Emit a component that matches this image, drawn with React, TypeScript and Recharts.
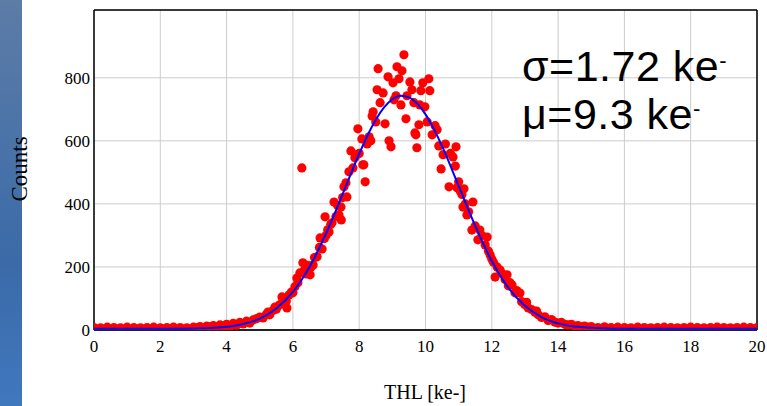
import React from "react";
import {
  ComposedChart,
  Scatter,
  Line,
  XAxis,
  YAxis,
  CartesianGrid,
  ReferenceLine,
} from "recharts";

// x ticks in ke-, y ticks in counts
const X_TICKS = [0, 2, 4, 6, 8, 10, 12, 14, 16, 18, 20];
const Y_TICKS = [0, 200, 400, 600, 800];
const Y_MAX = 1015;

// measured points [THL, counts]
const TAIL_LEFT: [number, number][] = [
  [0, 8], [0.2, 7], [0.4, 9], [0.6, 8], [0.8, 7], [1.0, 9], [1.2, 8], [1.4, 7],
  [1.6, 8], [1.8, 9], [2.0, 7], [2.2, 8], [2.4, 9], [2.6, 8], [2.8, 7],
];

const RISE: [number, number][] = [
  [3.0, 9], [3.1, 7], [3.2, 11], [3.3, 8], [3.4, 12], [3.5, 10], [3.6, 14], [3.7, 9],
  [3.8, 16], [3.9, 12], [4.0, 18], [4.1, 10], [4.2, 21], [4.3, 15], [4.4, 24], [4.5, 19],
  [4.6, 28], [4.7, 22], [4.8, 32], [4.9, 36], [5.0, 41], [5.1, 38], [5.2, 50], [5.25, 57],
  [5.3, 48], [5.4, 62], [5.46, 73], [5.5, 66], [5.6, 80], [5.67, 105], [5.7, 88], [5.8, 92],
  [5.82, 70], [5.88, 111], [5.95, 120], [6.0, 118], [6.06, 137], [6.12, 165], [6.15, 150],
  [6.21, 181], [6.27, 514], [6.3, 213], [6.35, 190], [6.4, 178], [6.45, 205], [6.52, 175],
  [6.55, 200], [6.61, 206], [6.65, 230], [6.73, 232], [6.8, 262], [6.82, 292], [6.88, 257],
  [6.95, 290], [6.97, 359], [7.0, 300], [7.05, 318], [7.09, 311], [7.14, 335], [7.18, 340],
  [7.24, 406], [7.3, 360], [7.35, 395], [7.39, 365], [7.45, 390], [7.46, 349], [7.5, 420],
  [7.54, 454], [7.6, 467], [7.63, 422], [7.69, 502], [7.75, 568], [7.81, 514], [7.87, 546],
  [7.93, 556], [7.96, 638], [8.0, 560], [8.08, 606], [8.11, 524], [8.14, 524], [8.18, 470],
  [8.24, 590], [8.3, 613], [8.35, 600], [8.39, 679], [8.42, 692], [8.5, 660],
];

const PEAK: [number, number][] = [
  [8.54, 762], [8.57, 829], [8.63, 721], [8.72, 752], [8.78, 654], [8.87, 803], [8.9, 600],
  [8.96, 581], [9.02, 784], [9.05, 730], [9.11, 743], [9.14, 835], [9.2, 797], [9.26, 714],
  [9.29, 822], [9.35, 873], [9.41, 670], [9.44, 743], [9.53, 787], [9.59, 762], [9.65, 721],
  [9.68, 625], [9.71, 619], [9.74, 578], [9.8, 651], [9.83, 714], [9.86, 759], [9.92, 784],
  [9.98, 708], [10.05, 660], [10.1, 797], [10.13, 759], [10.2, 619], [10.29, 648],
  [10.35, 635], [10.4, 584], [10.47, 511], [10.53, 556], [10.6, 590],
];

const FALL: [number, number][] = [
  [10.71, 454], [10.75, 560], [10.83, 549], [10.9, 520], [10.92, 581], [10.95, 451],
  [11.0, 470], [11.05, 440], [11.1, 430], [11.13, 390], [11.16, 448], [11.2, 400],
  [11.25, 365], [11.3, 375], [11.4, 317], [11.43, 406], [11.5, 330], [11.58, 286],
  [11.64, 317], [11.7, 300], [11.8, 270], [11.86, 295], [11.9, 250], [11.95, 238],
  [12.0, 225], [12.05, 215], [12.1, 168], [12.16, 200], [12.25, 190], [12.3, 180],
  [12.4, 160], [12.46, 175], [12.5, 140], [12.55, 150], [12.61, 143], [12.7, 118],
  [12.75, 125], [12.85, 117], [12.9, 90], [13.0, 80], [13.05, 88], [13.1, 70], [13.2, 65],
  [13.3, 56], [13.35, 60], [13.4, 48], [13.5, 40], [13.6, 42], [13.7, 30], [13.8, 33],
  [13.9, 25], [14.0, 22], [14.1, 24], [14.2, 18], [14.3, 16], [14.4, 18], [14.5, 12],
  [14.6, 14], [14.7, 10], [14.8, 12], [14.9, 9], [15.0, 11], [15.2, 8], [15.4, 10],
  [15.6, 8], [15.8, 9],
];

const TAIL_RIGHT: [number, number][] = [
  [16.0, 8], [16.2, 7], [16.4, 9], [16.6, 8], [16.8, 7], [17.0, 8], [17.2, 9], [17.4, 8],
  [17.6, 7], [17.8, 8], [18.0, 9], [18.2, 8], [18.4, 7], [18.6, 8], [18.8, 9], [19.0, 8],
  [19.2, 7], [19.4, 8], [19.6, 9], [19.8, 8], [20.0, 8],
];

// gaussian fit
const FIT_X = [0, 1, 2, 3, 3.5, 4, 4.5, 5, 5.5, 6, 6.5, 7, 7.5, 8, 8.25, 8.5, 8.75, 9, 9.25,
  9.5, 9.75, 10, 10.25, 10.5, 11, 11.5, 12, 12.5, 13, 13.5, 14, 14.5, 15, 15.5, 16, 17, 18, 19, 20];
const FIT_Y = [4, 4, 4, 5, 6, 10, 19, 36, 68, 121, 200, 306, 431, 559, 617, 667, 706, 732, 743,
  738, 718, 684, 638, 583, 457, 330, 219, 134, 77, 41, 21, 11, 7, 5, 4, 4, 4, 4, 4];

const points = [...TAIL_LEFT, ...RISE, ...PEAK, ...FALL, ...TAIL_RIGHT].map(([x, y]) => ({ x, y }));
const fit = FIT_X.map((x, i) => ({ x, y: FIT_Y[i] }));

const SERIF = "'Liberation Serif', 'Times New Roman', serif";
const SANS = "'Liberation Sans', Arial, Helvetica, sans-serif";
const W = 767;
const H = 406;
const MARGIN = { top: 10, right: 10, left: 44, bottom: 46 };

const Dot = (props: any) => <circle cx={props.cx} cy={props.cy} r={4.6} fill="#ff0000" />;

// both layers share the same axes so the plot areas line up
function Axes({ visible }: { visible: boolean }) {
  return (
    <>
      <XAxis
        type="number"
        dataKey="x"
        domain={[0, 20]}
        ticks={X_TICKS}
        allowDataOverflow
        height={30}
        tickLine={false}
        tickSize={6}
        tickMargin={4}
        axisLine={visible ? { stroke: "#222", strokeWidth: 2 } : false}
        tick={visible ? { fill: "#000", fontFamily: SERIF, fontSize: 17 } : false}
      />
      <YAxis
        type="number"
        dataKey="y"
        domain={[0, Y_MAX]}
        ticks={Y_TICKS}
        allowDataOverflow
        width={50}
        tickLine={false}
        tickSize={0}
        tickMargin={4}
        axisLine={visible ? { stroke: "#000", strokeWidth: 1.5 } : false}
        tick={visible ? { fill: "#000", fontFamily: SERIF, fontSize: 17 } : false}
      />
    </>
  );
}

const supStyle: React.CSSProperties = { fontSize: 22, verticalAlign: "0.6em", lineHeight: 0 };

export default function App() {
  return (
    <div style={{ position: "absolute", left: 0, top: 0, width: W, height: H, background: "#fff", overflow: "hidden" }}>
      <div
        style={{
          position: "absolute",
          left: 0,
          top: 0,
          width: 22,
          height: H,
          background: "linear-gradient(180deg, #5d7ca6 0%, #4a73a8 35%, #3b6aa8 65%, #4078be 100%)",
        }}
      />
      <ComposedChart width={W} height={H} margin={MARGIN} style={{ position: "absolute", left: 0, top: 0 }}>
        <CartesianGrid stroke="#cccccc" strokeWidth={1} />
        {Axes({ visible: true })}
        <ReferenceLine y={Y_MAX} stroke="#000" strokeWidth={1.5} />
        <ReferenceLine x={20} stroke="#000" strokeWidth={1.5} />
        <Scatter data={points} dataKey="y" shape={Dot} isAnimationActive={false} />
      </ComposedChart>

      {/* fit curve sits above the dots */}
      <ComposedChart
        width={W}
        height={H}
        margin={MARGIN}
        style={{ position: "absolute", left: 0, top: 0, pointerEvents: "none" }}
      >
        {Axes({ visible: false })}
        <Line
          data={fit}
          dataKey="y"
          type="monotone"
          stroke="#0000ff"
          strokeWidth={2}
          dot={false}
          activeDot={false}
          isAnimationActive={false}
        />
      </ComposedChart>

      <div
        style={{
          position: "absolute",
          left: 20,
          top: 169,
          transform: "translate(-50%, -50%) rotate(-90deg)",
          fontFamily: SERIF,
          fontSize: 23,
          color: "#000",
          whiteSpace: "nowrap",
        }}
      >
        Counts
      </div>
      <div
        style={{
          position: "absolute",
          left: 425,
          top: 392,
          transform: "translate(-50%, -50%)",
          fontFamily: SERIF,
          fontSize: 20,
          color: "#000",
          whiteSpace: "nowrap",
        }}
      >
        THL [ke-]
      </div>
      <div
        style={{
          position: "absolute",
          left: 522,
          top: 42,
          fontFamily: SANS,
          fontSize: 43,
          letterSpacing: "0.5px",
          lineHeight: "48px",
          color: "#000",
          whiteSpace: "nowrap",
        }}
      >
        <div>
          σ=1.72 ke<sup style={supStyle}>-</sup>
        </div>
        <div>
          μ=9.3 ke<sup style={supStyle}>-</sup>
        </div>
      </div>
    </div>
  );
}
